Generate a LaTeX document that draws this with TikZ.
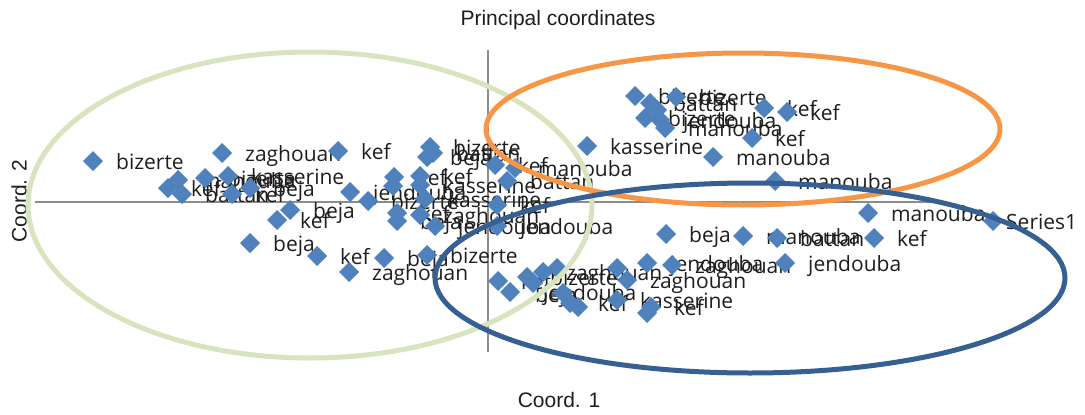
\documentclass[tikz,border=0pt]{standalone}
\usepackage{fontspec}
\setmainfont{Liberation Sans}
\newfontfamily\lblfont{Open Sans}
\definecolor{dmdblue}{HTML}{4F81BD}
\definecolor{lblgray}{HTML}{1E1E1E}
\definecolor{axgray}{HTML}{8C8C8C}
\definecolor{ellgreen}{HTML}{D7E4BD}
\definecolor{ellorange}{HTML}{F79646}
\definecolor{ellblue}{HTML}{376092}
\begin{document}
\begin{tikzpicture}[x=1pt,y=-1pt,
  lbl/.style={font=\lblfont\fontsize{21}{21}\selectfont, text=lblgray, anchor=base west, inner sep=0pt},
  ttl/.style={font=\fontsize{21}{21}\selectfont, text=lblgray, inner sep=0pt},
  axisline/.style={draw=axgray, line width=1.6pt},
  ell/.style={line width=5pt}]
\useasboundingbox (0,0) rectangle (1085,415);
% axes
\coordinate (xl) at (35,202);
\coordinate (xr) at (947,202);
\coordinate (yt) at (488,50);
\coordinate (yb) at (488,352);
\draw[axisline] (xl) -- (xr);
\draw[axisline] (yt) -- (yb);
% titles
\node[ttl] (title) at (558,20) {Principal coordinates};
\node[ttl] (xlab) at (559,400) {Coord. 1};
\node[ttl, rotate=90] (ylab) at (19,201) {Coord. 2};
% labels
\foreach \x/\y/\t in {
 93/161/bizerte, 222/153/zaghouan, 338/151/kef, 168/188/kef, 178/180/manouba,
 182/194/battan, 205/178/bizerte, 228/176/kasserine, 250/188/beja, 232/194/kef,
 290/210/beja, 277/220/kef, 250/243/beja, 317/256/kef, 349/272/zaghouan,
 384/258/beja, 427/255/bizerte, 350/192/jendouba, 368/201/bizerte, 394/177/kef,
 397/213/kef, 397/221/beja, 430/147/bizerte, 427/157/beja, 433/153/battan,
 420/176/kef, 420/185/kasserine, 425/199/kasserine, 420/215/zaghouan, 435/226/jendouba,
 497/205/kef, 497/226/jendouba, 495/165/kef, 515/168/manouba, 507/181/battan,
 587/146/kasserine,
 635/96/bizerte, 650/103/battan, 676/97/bizerte, 645/118/bizerte, 660/120/jendouba,
 665/128/manouba, 764/108/kef, 787/112/kef, 752/138/kef, 713/157/manouba,
 775/181/manouba, 868/213/manouba, 874/238/kef, 777/238/battan, 743/236/manouba,
 666/234/beja, 785/263/jendouba,
 498/281/kef, 512/294/beja, 527/277/bizerte, 543/272/zaghouan, 520/292/jendouba,
 575/303/kef, 617/300/kasserine, 627/280/zaghouan, 647/263/jendouba, 672/265/zaghouan,
 651/307/kef}
 {\node[lbl] at (\x+23,\y+8) {\t};}
% diamonds
\foreach \x/\y in {
 93/161, 222/153, 338/151, 168/188, 178/180, 182/194, 205/178, 228/176, 250/188, 232/194,
 290/210, 277/220, 250/243, 317/256, 349/272, 384/258, 427/255, 350/192, 368/201, 394/177,
 393/186, 397/213, 397/221, 430/147, 427/157, 433/153, 420/176, 420/185, 425/199, 420/215,
 435/226, 497/205, 497/226, 495/165, 515/168, 507/181, 587/146,
 635/96, 650/103, 676/97, 645/118, 660/120, 665/128, 657/110, 764/108, 787/112, 752/138,
 713/157, 775/181, 868/213, 874/238, 777/238, 743/236, 666/234, 785/263,
 498/281, 510/292, 527/277, 543/272, 533/283, 557/268, 563/293, 570/303, 578/307,
 617/268, 627/280, 647/263, 647/313, 617/300, 672/265, 651/307}
 {\fill[dmdblue] (\x,\y) +(-10,0) -- +(0,-10) -- +(10,0) -- +(0,10) -- cycle;}
% legend
\fill[dmdblue] (993,221) +(-10,0) -- +(0,-10) -- +(10,0) -- +(0,10) -- cycle;
\node[lbl] (legend) at (1006,229) {Series1};
% ellipses
\draw[ell, ellgreen] (310,205) ellipse [x radius=282, y radius=153];
\draw[ell, ellorange] (743,129) ellipse [x radius=257, y radius=76];
\draw[ell, ellblue] (750,278) ellipse [x radius=315, y radius=95];
\end{tikzpicture}
\end{document}
